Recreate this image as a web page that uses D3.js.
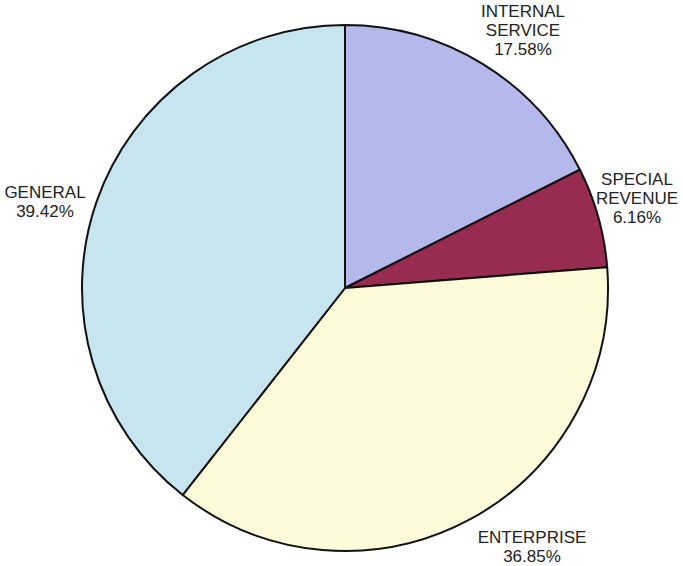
<!DOCTYPE html>
<html>
<head>
<meta charset="utf-8">
<script src="https://cdn.jsdelivr.net/npm/d3@7"></script>
<style>
  body { margin: 0; background: #fff; }
  svg text { font-family: "Liberation Sans", Arial, sans-serif; font-size: 17px; fill: #222; }
</style>
</head>
<body>
<div id="chart"></div>
<script>
var svgWidth = 683;
var svgHeight = 566;

// data
var categories = ["INTERNAL SERVICE", "SPECIAL REVENUE", "ENTERPRISE", "GENERAL"];
var labelLines = [["INTERNAL", "SERVICE"], ["SPECIAL", "REVENUE"], ["ENTERPRISE"], ["GENERAL"]];
var values = [17.58, 6.16, 36.85, 39.42];
var colors = ["#b4b8eb", "#972c50", "#fdfbd9", "#c6e5ef"];

// label anchor points (x, y centre of first line)
var labelPos = [[523, 11], [637, 179], [532, 537], [45, 192]];

var cx = 345, cy = 288, radius = 263;

var svg = d3.select("#chart")
  .append("svg")
  .attr("width", svgWidth)
  .attr("height", svgHeight);

var pieGroup = svg.append("g")
  .attr("transform", `translate(${cx}, ${cy})`);

var pie = d3.pie().sort(null).value(d => d);
var arc = d3.arc().innerRadius(0).outerRadius(radius);

pieGroup.selectAll("path")
  .data(pie(values))
  .enter()
  .append("path")
  .attr("d", arc)
  .attr("fill", (d, i) => colors[i])
  .attr("stroke", "#111")
  .attr("stroke-width", 2)
  .attr("stroke-linejoin", "round");

// labels
categories.forEach(function(c, i) {
  var t = svg.append("text")
    .attr("text-anchor", "middle")
    .attr("x", labelPos[i][0])
    .attr("y", labelPos[i][1]);
  var lines = labelLines[i].concat([values[i].toFixed(2) + "%"]);
  lines.forEach(function(line, j) {
    t.append("tspan")
      .attr("x", labelPos[i][0])
      .attr("dy", j === 0 ? "0.35em" : "1.12em")
      .text(line);
  });
});
</script>
</body>
</html>
